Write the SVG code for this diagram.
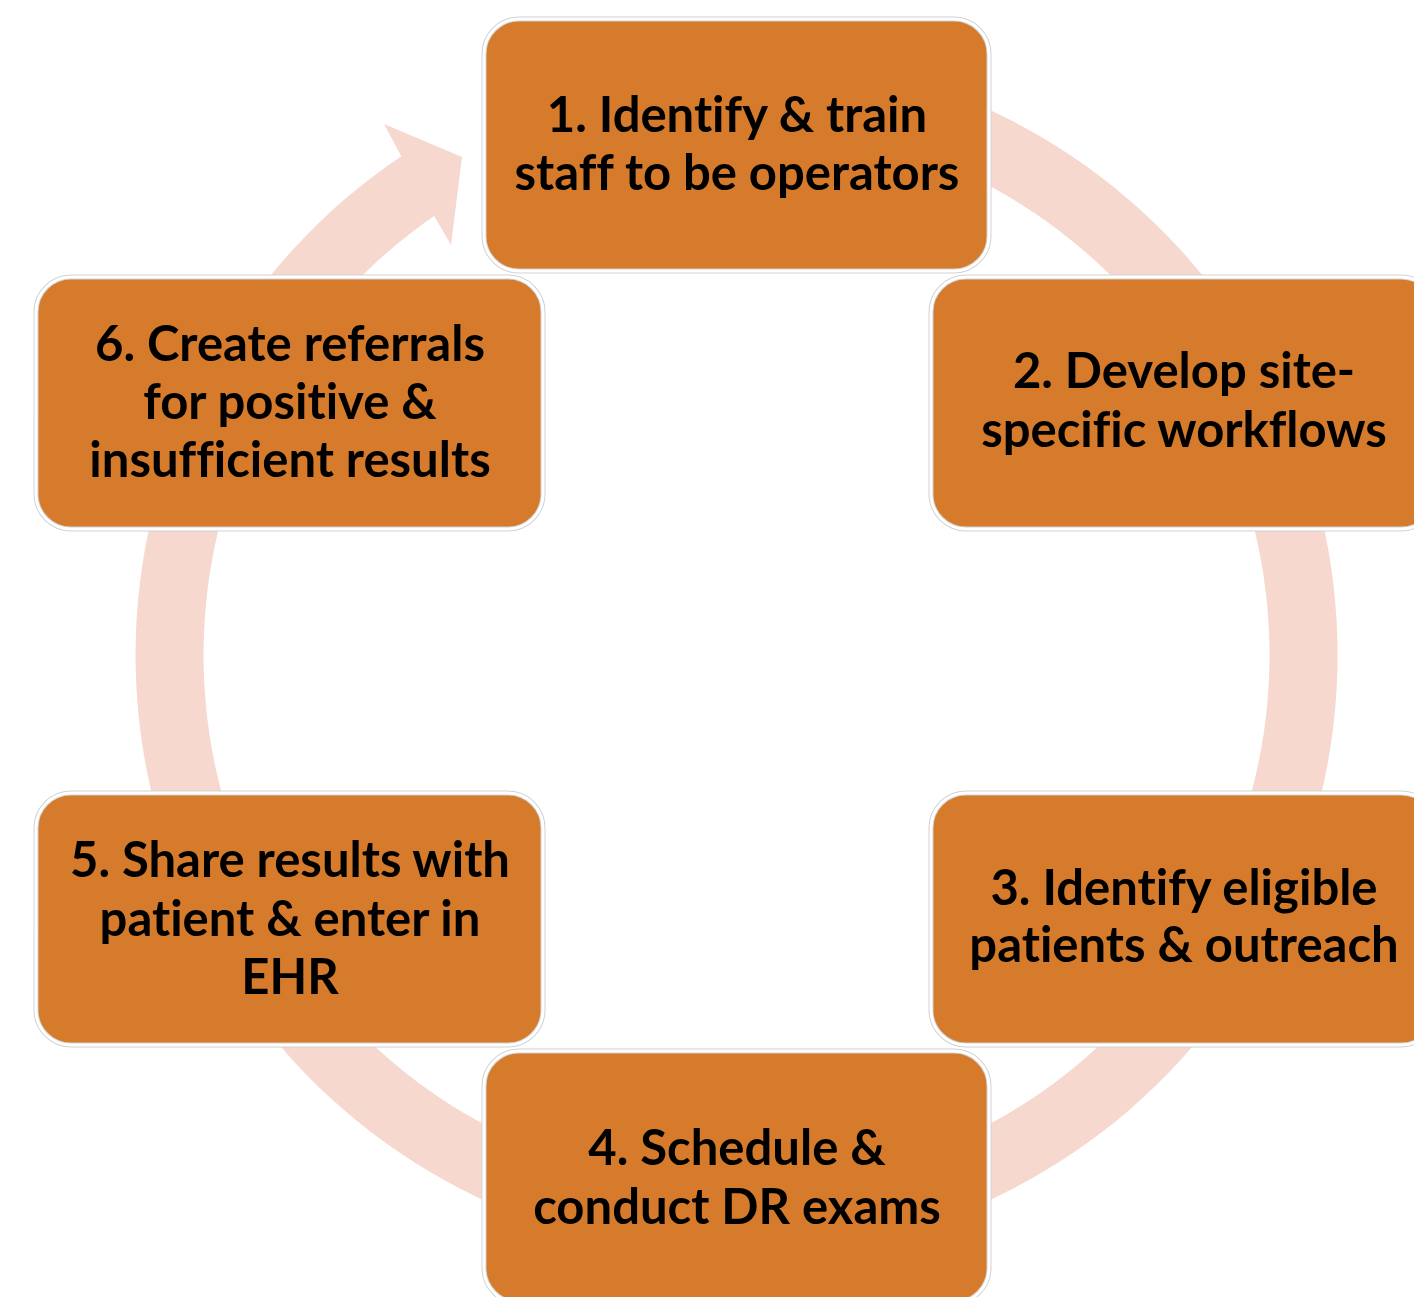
<svg xmlns="http://www.w3.org/2000/svg" width="1414" height="1297" viewBox="0 0 1414 1297">
<style>
.box{fill:#D67B2B;stroke:#D2D2D2;stroke-width:5}
.box2{fill:none;stroke:#FFFFFF;stroke-width:3}
.lbl{font-family:Lato,"Open Sans","Liberation Sans",sans-serif;font-weight:bold;font-size:49px;fill:#000;text-anchor:middle;font-variant-ligatures:none}
</style>
<rect width="1414" height="1297" fill="#FFFFFF"/>
<g id="connectors">
<path d="M736.5,54 A601,601 0 1 1 401.3,156.2 L384,124 L462,157 L451,245 L434.1,216.1 A533,533 0 1 0 736.5,122 Z" fill="#F6D8CE"/>
</g>
<g id="node1">
<rect class="box" x="484" y="19" width="505" height="252" rx="35"/>
<rect class="box2" x="484" y="19" width="505" height="252" rx="35"/>
<text class="lbl" x="737" y="132">1. Identify &amp; train</text>
<text class="lbl" x="737" y="190">staff to be operators</text>
</g>
<g id="node2">
<rect class="box" x="931" y="277" width="505" height="252" rx="35"/>
<rect class="box2" x="931" y="277" width="505" height="252" rx="35"/>
<text class="lbl" x="1184" y="388">2. Develop site-</text>
<text class="lbl" x="1184" y="447">specific workflows</text>
</g>
<g id="node3">
<rect class="box" x="931" y="793" width="505" height="252" rx="35"/>
<rect class="box2" x="931" y="793" width="505" height="252" rx="35"/>
<text class="lbl" x="1184" y="905">3. Identify eligible</text>
<text class="lbl" x="1184" y="962">patients &amp; outreach</text>
</g>
<g id="node4">
<rect class="box" x="484" y="1051" width="505" height="252" rx="35"/>
<rect class="box2" x="484" y="1051" width="505" height="252" rx="35"/>
<text class="lbl" x="737" y="1165">4. Schedule &amp;</text>
<text class="lbl" x="737" y="1224">conduct DR exams</text>
</g>
<g id="node5">
<rect class="box" x="36" y="793" width="507" height="252" rx="35"/>
<rect class="box2" x="36" y="793" width="507" height="252" rx="35"/>
<text class="lbl" x="290" y="877">5. Share results with</text>
<text class="lbl" x="290" y="936">patient &amp; enter in</text>
<text class="lbl" x="290" y="994">EHR</text>
</g>
<g id="node6">
<rect class="box" x="36" y="277" width="507" height="252" rx="35"/>
<rect class="box2" x="36" y="277" width="507" height="252" rx="35"/>
<text class="lbl" x="290" y="361">6. Create referrals</text>
<text class="lbl" x="290" y="419">for positive &amp;</text>
<text class="lbl" x="290" y="477">insufficient results</text>
</g>
</svg>
